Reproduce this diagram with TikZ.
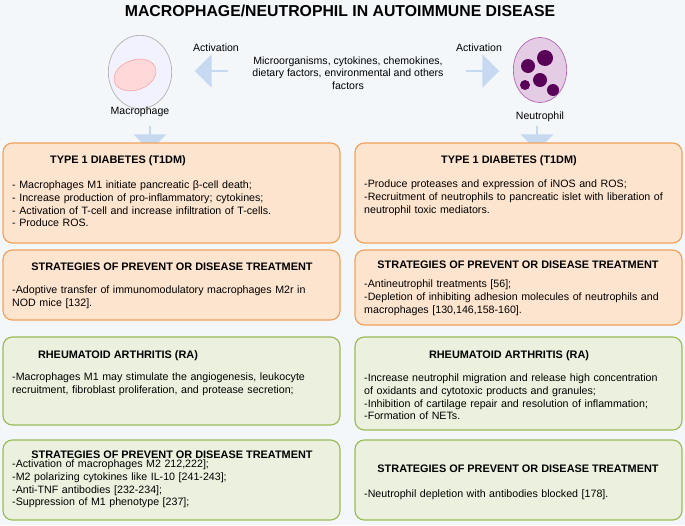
\documentclass[tikz,border=0pt]{standalone}
\usepackage{fontspec}
\setmainfont{Liberation Sans}
\usetikzlibrary{shapes.arrows,shapes.geometric}
\definecolor{bg}{HTML}{F3F7FA}
\definecolor{ofill}{HTML}{FDE4CE}
\definecolor{oline}{HTML}{F2A15B}
\definecolor{gfill}{HTML}{EBF1DE}
\definecolor{gline}{HTML}{9BBB59}
\definecolor{arr}{HTML}{C6D9F0}
\begin{document}
\begin{tikzpicture}[x=0.03cm,y=-0.03cm,
  obox/.style={draw=oline,fill=ofill,line width=1pt,rounded corners=8pt},
  gbox/.style={draw=gline,fill=gfill,line width=1pt,rounded corners=8pt},
  ttl/.style={font=\fontsize{9.3}{11}\selectfont\bfseries,anchor=north},
  body/.style={font=\fontsize{9.1}{10.8}\selectfont,anchor=north west,align=left,text width=10.2cm,inner sep=0pt},
  lbl/.style={font=\fontsize{9}{10.5}\selectfont,align=center},
  barrow/.style={single arrow,fill=arr,draw=none,minimum height=1cm,minimum width=1cm,single arrow head extend=0.12cm,inner sep=0pt}]
\fill[bg] (0,0) rectangle (685,525);
\useasboundingbox (0,0) rectangle (685,525);
\node[font=\fontsize{13.5}{15}\selectfont\bfseries] (title) at (340,11) {MACROPHAGE/NEUTROPHIL IN AUTOIMMUNE DISEASE};
% macrophage
\node[draw=gray!60,fill=blue!5,ellipse,minimum width=1.9cm,minimum height=2.2cm,line width=0.6pt] (mac) at (140,72) {};
\node[draw=red!40,fill=red!15,ellipse,rotate=20,minimum width=1.3cm,minimum height=0.9cm] (nuc) at (135,75) {};
\node[lbl] (maclbl) at (140,112) {Macrophage};
% neutrophil
\node[draw=violet!60,fill=violet!20,ellipse,minimum width=1.6cm,minimum height=1.95cm,line width=0.6pt] (neu) at (540,70) {};
\foreach \p/\r in {{(528,66)/7},{(545,58)/8},{(540,80)/7},{(553,90)/6},{(525,85)/5}}
  \fill[violet!70!black] \p circle (\r);
\node[lbl] (neulbl) at (540,117) {Neutrophil};
% arrows
\node[barrow,shape border rotate=180] (la) at (212,71) {};
\node[barrow] (ra) at (482,71) {};
\node[lbl] (la1) at (216,48) {Activation};
\node[lbl] (ra1) at (479,48) {Activation};
\node[lbl] (mid) at (348,73) {Microorganisms, cytokines, chemokines,\\dietary factors, environmental and others\\factors};
\node[barrow,shape border rotate=270,minimum height=0.75cm] (da) at (150,138) {};
\node[barrow,shape border rotate=270,minimum height=0.75cm] (db) at (537,138) {};
% left column
\draw[obox] (3,143) rectangle (340,243);
\node[ttl] (t1) at (118,151) {TYPE 1 DIABETES (T1DM)};
\node[body] (b1) at (12,181) {- Macrophages M1 initiate pancreatic β-cell death;\\- Increase production of pro-inflammatory; cytokines;\\- Activation of T-cell and increase infiltration of T-cells.\\- Produce ROS.};
\draw[obox] (3,250) rectangle (340,320);
\node[ttl] (t2) at (172,259) {STRATEGIES OF PREVENT OR DISEASE TREATMENT};
\node[body] (b2) at (12,286) {-Adoptive transfer of immunomodulatory macrophages M2r in\\NOD mice [132].};
\draw[gbox] (3,337) rectangle (340,425);
\node[ttl] (t3) at (118,346) {RHEUMATOID ARTHRITIS (RA)};
\node[body] (b3) at (12,373) {-Macrophages M1 may stimulate the angiogenesis, leukocyte\\recruitment, fibroblast proliferation, and protease secretion;};
\draw[gbox] (3,440) rectangle (340,520);
\node[ttl] (t4) at (172,447) {STRATEGIES OF PREVENT OR DISEASE TREATMENT};
\node[body] (b4) at (12,460) {-Activation of macrophages M2 212,222];\\-M2 polarizing cytokines like IL-10 [241-243];\\-Anti-TNF antibodies [232-234];\\-Suppression of M1 phenotype [237];};
% right column
\draw[obox] (355,143) rectangle (682,243);
\node[ttl] (t5) at (509,151) {TYPE 1 DIABETES (T1DM)};
\node[body] (b5) at (364,180) {-Produce proteases and expression of iNOS and ROS;\\-Recruitment of neutrophils to pancreatic islet with liberation of\\neutrophil toxic mediators.};
\draw[obox] (355,250) rectangle (682,325);
\node[ttl] (t6) at (518,257) {STRATEGIES OF PREVENT OR DISEASE TREATMENT};
\node[body] (b6) at (364,280) {-Antineutrophil treatments [56];\\-Depletion of inhibiting adhesion molecules of neutrophils and\\macrophages [130,146,158-160].};
\draw[gbox] (355,337) rectangle (682,430);
\node[ttl] (t7) at (509,346) {RHEUMATOID ARTHRITIS (RA)};
\node[body] (b7) at (364,374) {-Increase neutrophil migration and release high concentration\\of oxidants and cytotoxic products and granules;\\-Inhibition of cartilage repair and resolution of inflammation;\\-Formation of NETs.};
\draw[gbox] (355,440) rectangle (682,520);
\node[ttl] (t8) at (518,461) {STRATEGIES OF PREVENT OR DISEASE TREATMENT};
\node[body] (b8) at (364,490) {-Neutrophil depletion with antibodies blocked [178].};
\end{tikzpicture}
\end{document}
